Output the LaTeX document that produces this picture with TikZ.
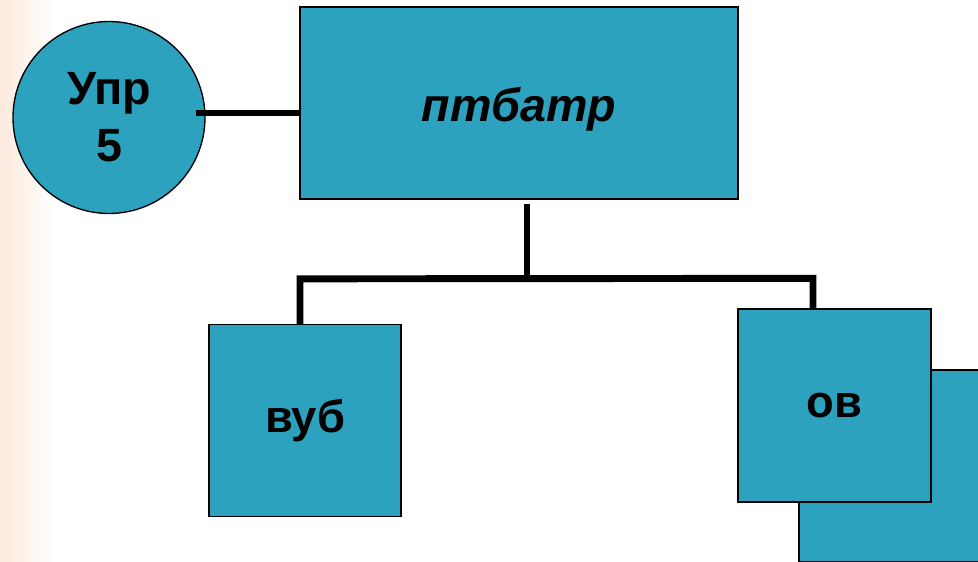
\documentclass[tikz,border=0pt]{standalone}
\usepackage{fontspec}
\setmainfont{Liberation Sans}
\usetikzlibrary{calc}
\definecolor{tealbox}{RGB}{44,162,190}
\definecolor{peach}{RGB}{251,233,220}
\begin{document}
\begin{tikzpicture}[x=0.75pt,y=-0.75pt,
  box/.style={draw=black,line width=1pt,fill=tealbox,inner sep=0pt,
    minimum width=144pt,minimum height=144pt,font=\fontsize{34}{40}\selectfont\bfseries},
  conn/.style={line width=5.2pt,line join=miter,line cap=butt}]
\useasboundingbox (0,0) rectangle (978,561);
\clip (0,0) rectangle (978,561);
\fill[left color=peach,right color=white] (0,0) rectangle (55,561);
% back box
\node[box] (back) at (895,466) {};
% nodes
\node[box,circle,minimum size=144pt,align=center,
  font=\fontsize{35}{42.75}\selectfont\bfseries] (upr) at (109,117.5) {Упр\\5};
\node[box,minimum width=328.5pt,minimum height=144pt,text height=35pt,text depth=7.5pt,
  font=\fontsize{35}{42}\selectfont\bfseries\itshape] (ptb) at (519,103) {птбатр};
\node[box] (vyb) at (305,420.5) {вуб};
\node[box,minimum width=144.75pt,minimum height=144.75pt] (ov) at (834.5,405.5) {ов};
% connectors
\draw[conn] ($(upr.east)+(-10,-4.5)$) coordinate (a) -- (a -| ptb.west);
\draw[conn] ($(ptb.south)+(8,4)$) coordinate (b) -- ($(b)+(0,76)$);
\draw[conn] ($(vyb.north)+(-5,0)$) -- ++(0,-45) -- ($(ov.north)+(-21.5,-30)$) -- ($(ov.north)+(-21.5,0)$);
\end{tikzpicture}
\end{document}
